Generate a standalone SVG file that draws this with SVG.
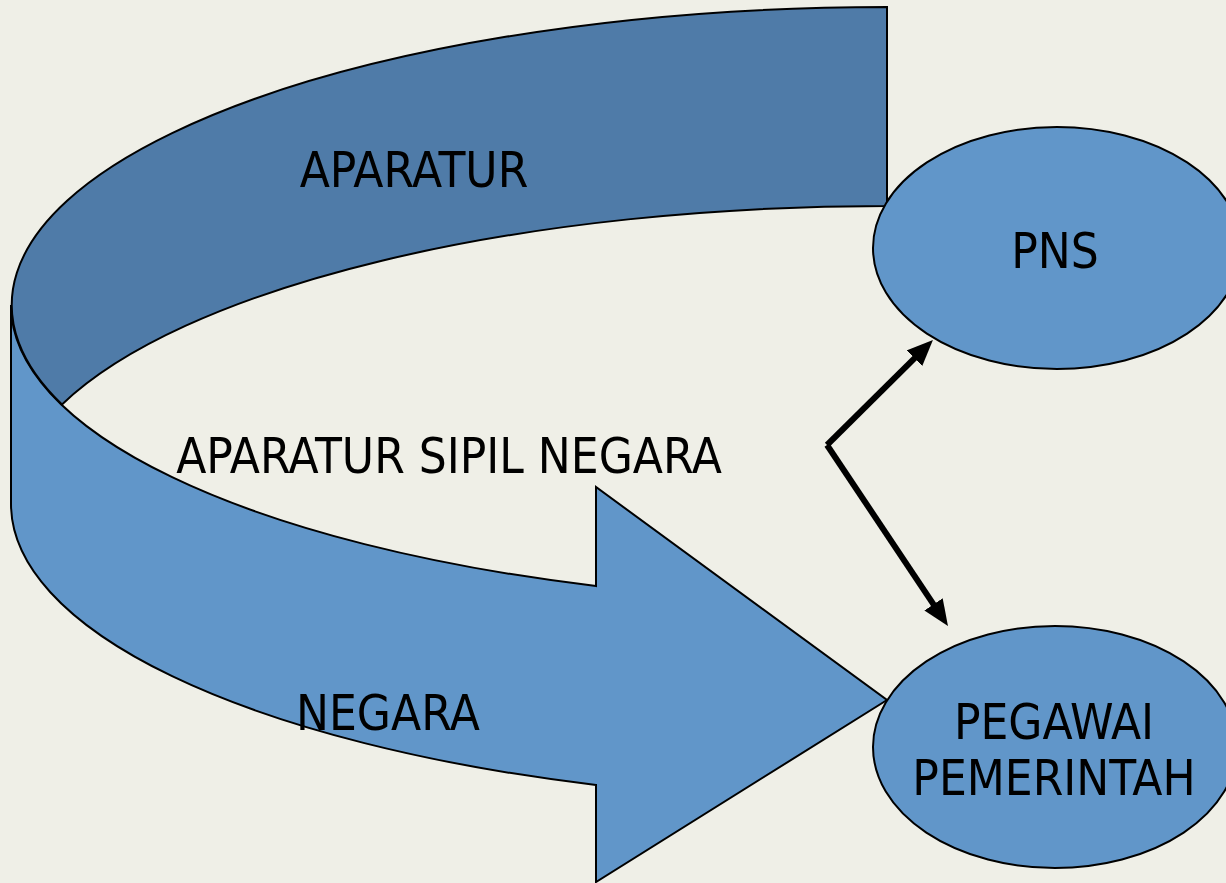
<svg xmlns="http://www.w3.org/2000/svg" width="1226" height="883" viewBox="0 0 1226 883">
  <defs>
    <style>
      .bg { fill: #EFEFE7; }
      .dark { fill: #4F7BA8; stroke: #000; stroke-width: 2; stroke-linejoin: miter; }
      .light { fill: #6196C9; stroke: #000; stroke-width: 2; stroke-linejoin: miter; }
      .node { fill: #6196C9; stroke: #000; stroke-width: 2; }
      .lbl { font-family: "DejaVu Sans Condensed", "DejaVu Sans", sans-serif; font-stretch: condensed; font-size: 49px; fill: #000; text-anchor: middle; }
      .conn { stroke: #000; stroke-width: 6; fill: none; marker-end: url(#ah); }
    </style>
    <marker id="ah" viewBox="0 0 26 22" refX="12" refY="11" markerWidth="26" markerHeight="22" markerUnits="userSpaceOnUse" orient="auto">
      <path d="M0,0 L26,11 L0,22 Z" fill="#000"/>
    </marker>
  </defs>
  <rect class="bg" x="0" y="0" width="1226" height="883"/>

  <g id="curved-arrow">
    <path id="band-lower" class="light" d="M11,305 A876,298 0 0 0 596,586 L596,487 L887,700 L596,882 L596,785 A876,298 0 0 1 11,504 Z"/>
    <path id="band-upper" class="dark" d="M887,7 A876,298 0 0 0 62,404.5 A876,298 0 0 1 887,206 Z"/>
  </g>

  <g id="label-aparatur"><text class="lbl" x="414" y="187">APARATUR</text></g>
  <g id="label-asn"><text class="lbl" x="449" y="473">APARATUR SIPIL NEGARA</text></g>
  <g id="label-negara"><text class="lbl" x="388" y="730">NEGARA</text></g>

  <g id="node-pns">
    <ellipse class="node" cx="1057" cy="248" rx="184" ry="121"/>
    <text class="lbl" x="1055" y="268">PNS</text>
  </g>
  <g id="node-pegawai">
    <ellipse class="node" cx="1055" cy="747" rx="182" ry="121"/>
    <text class="lbl" x="1054" y="739">PEGAWAI</text>
    <text class="lbl" x="1054" y="795">PEMERINTAH</text>
  </g>

  <g id="connectors">
    <line class="conn" x1="827" y1="445" x2="923" y2="349.8"/>
    <line class="conn" x1="827" y1="445" x2="940.2" y2="614.4"/>
  </g>
</svg>
